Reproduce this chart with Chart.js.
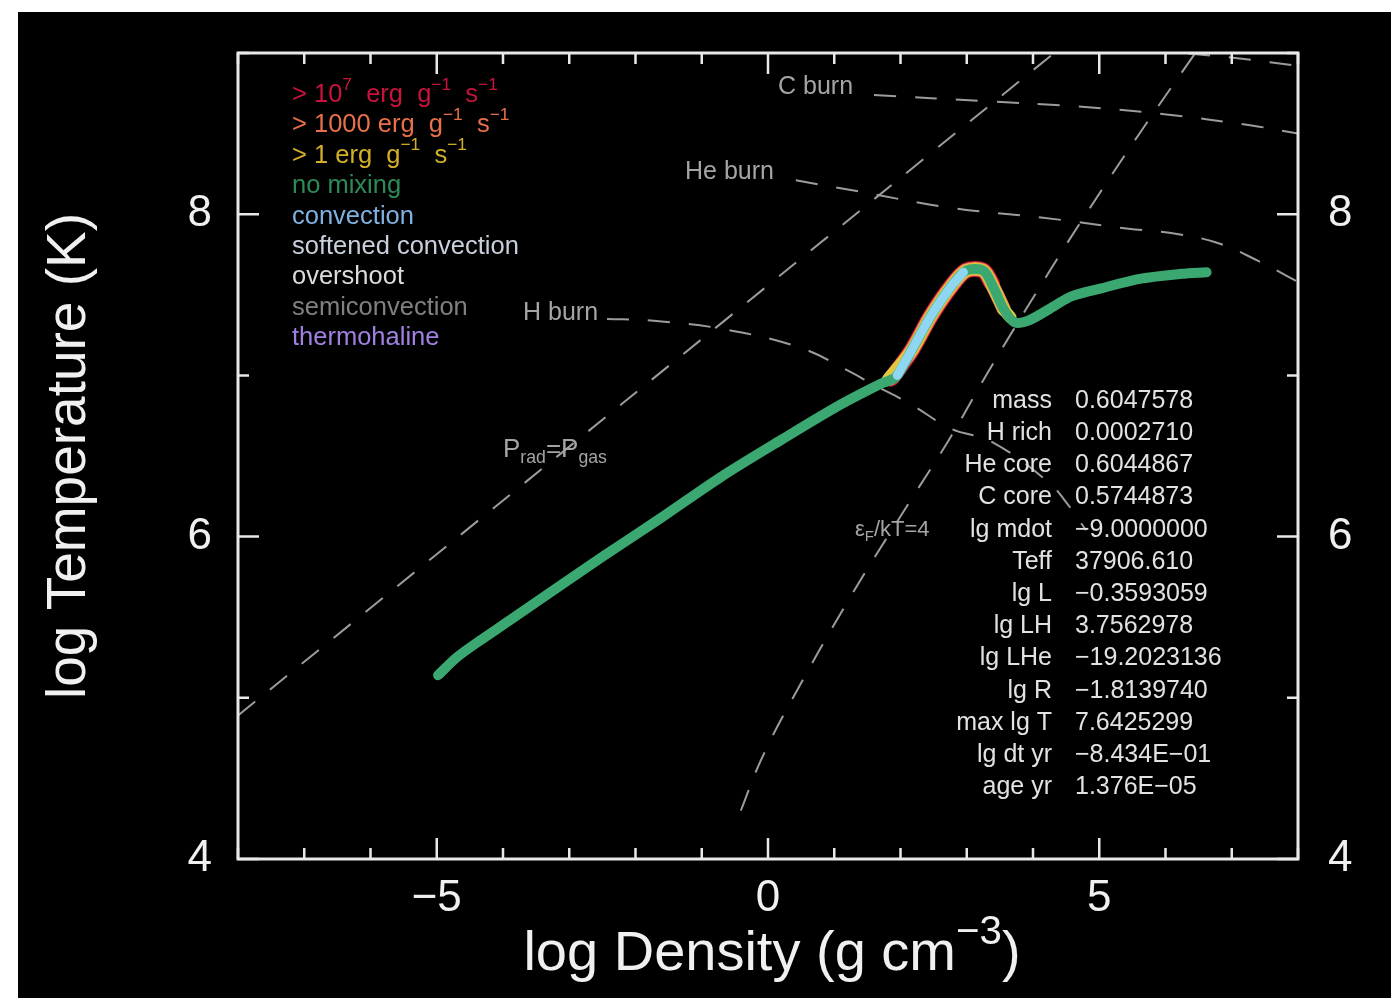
<!DOCTYPE html>
<html><head><meta charset="utf-8">
<script src="https://cdn.jsdelivr.net/npm/chart.js@4.4.1/dist/chart.umd.min.js"></script>
<style>html,body{margin:0;padding:0;background:#fff;}canvas{display:block;}</style>
</head><body>
<canvas id="c" width="1400" height="1001"></canvas>
<script>
const FONT = '"Liberation Sans", Arial, sans-serif';

// ---- data (log density, log temperature) ----
const trackRho = [-4.98,-4.70,-4.40,-3.90,-3.23,-2.48,-1.60,-0.71,0.20,1.10,1.71,1.93,2.16,2.46,2.76,2.99,3.25,3.41,3.56,3.72,3.93,4.32,4.58,5.03,5.63,6.24,6.62];
const trackT   = [5.14,5.25,5.34,5.48,5.67,5.88,6.12,6.37,6.60,6.82,6.95,6.99,7.15,7.37,7.55,7.65,7.65,7.54,7.41,7.33,7.34,7.43,7.49,7.54,7.60,7.63,7.64];
const convRho = [1.95,2.16,2.46,2.76,2.95];
const convT   = [7.00,7.15,7.37,7.55,7.64];
const mix7Rho = [1.86,2.16,2.46,2.76,2.99,3.25,3.38];
const mix7T   = [6.98,7.15,7.37,7.55,7.65,7.65,7.57];
const mix3Rho = [1.84,2.16,2.46,2.76,2.99,3.25,3.41,3.56];
const mix3T   = [6.98,7.15,7.37,7.55,7.65,7.65,7.54,7.41];
const mix1Rho = [1.80,2.16,2.46,2.76,2.99,3.25,3.41,3.56,3.66];
const mix1T   = [6.97,7.15,7.37,7.55,7.65,7.65,7.54,7.41,7.36];

const hBurnRho = [-2.43,-1.77,-0.71,0.50,1.25,1.56,2.16,2.76,3.37,4.23,4.47,4.80];
const hBurnT   = [7.35,7.34,7.29,7.17,7.02,6.95,6.82,6.67,6.59,6.34,6.23,6.04];
const heBurnRho = [0.42,1.25,2.76,4.12,5.44,6.13,6.80,7.40,8.00];
const heBurnT   = [8.21,8.15,8.04,7.98,7.91,7.88,7.82,7.71,7.58];
const cBurnRho = [1.60,3.32,4.62,5.98,7.30,8.00];
const cBurnT   = [8.74,8.70,8.67,8.62,8.55,8.50];
const oBurnRho = [6.34,7.15,8.00];
const oBurnT   = [8.997,8.965,8.92];
const pradRho = [-8.00,4.32];
const pradT   = [4.89,9.00];
const degRho = [-0.41,-0.11,0.35,1.25,2.16,2.76,3.32,4.27,4.83,5.59,6.45];
const degT   = [4.30,4.61,4.98,5.63,6.23,6.62,7.02,7.66,8.02,8.49,9.00];

// ---- tick labels ----
const xTickLabels = [-5, 0, 5];
const yTickLabels = [4, 6, 8];

// ---- text ----
const legendTexts = [
  [['> 10',''],['7','sup'],['  erg  g',''],['\u22121','sup'],['  s',''],['\u22121','sup']],
  [['> 1000 erg  g',''],['\u22121','sup'],['  s',''],['\u22121','sup']],
  [['> 1 erg  g',''],['\u22121','sup'],['  s',''],['\u22121','sup']],
  [['no mixing','']],
  [['convection','']],
  [['softened convection','']],
  [['overshoot','']],
  [['semiconvection','']],
  [['thermohaline','']]
];
const legendColors = ['#c8143c','#e8704a','#d4b02a','#2e8b57','#7fb2e0','#c8d0dc','#dcdcdc','#808080','#a080e0'];
const infoLabels = ['mass','H rich','He core','C core','lg mdot','Teff','lg L','lg LH','lg LHe','lg R','max lg T','lg dt yr','age yr'];
const infoValues = ['0.6047578','0.0002710','0.6044867','0.5744873','\u22129.0000000','37906.610','\u22120.3593059','3.7562978','\u221219.2023136','\u22121.8139740','7.6425299','\u22128.434E\u221201','1.376E\u221205'];
const xTitleParts = [['log Density (g cm',''],['\u22123','sup'],[')','']];
const yTitle = 'log Temperature (K)';

const pts = (xs, ys) => xs.map((x, i) => ({x, y: ys[i]}));
const dashed = (xs, ys) => ({data: pts(xs, ys), borderColor:'#9c9c9c', borderWidth:2, borderDash:[22,19], tension:0.4, pointRadius:0, showLine:true, order:10});
const solid = (xs, ys, color, w, order) => ({data: pts(xs, ys), borderColor:color, borderWidth:w, tension:0.3, pointRadius:0, showLine:true, borderCapStyle:'round', borderJoinStyle:'round', order});

function rich(ctx, parts, x, y, size, color, align, supScale) {
  const sc = supScale || 0.68;
  const segs = parts.map(([t,k]) => { const s = k ? size*sc : size; ctx.font = s + 'px ' + FONT; return {t, k, s, w: ctx.measureText(t).width}; });
  const total = segs.reduce((a,b) => a + b.w, 0);
  let cx = align === 'right' ? x - total : (align === 'center' ? x - total/2 : x);
  ctx.fillStyle = color; ctx.textAlign = 'left'; ctx.textBaseline = 'middle';
  for (const s of segs) {
    ctx.font = s.s + 'px ' + FONT;
    const dy = s.k === 'sup' ? -size*0.4 : (s.k === 'sub' ? size*0.32 : 0);
    ctx.fillText(s.t, cx, y + dy);
    cx += s.w;
  }
}

const bgPlugin = {
  id: 'bg',
  beforeDraw(chart) {
    const c = chart.ctx; c.save();
    c.fillStyle = '#fff'; c.fillRect(0, 0, chart.width, chart.height);
    c.fillStyle = '#000'; c.fillRect(18, 12, 1373, 986);
    c.restore();
  }
};

const framePlugin = {
  id: 'frame',
  afterDatasetsDraw(chart) {
    const c = chart.ctx, a = chart.chartArea, xs = chart.scales.x, ys = chart.scales.y;
    c.save();
    c.strokeStyle = '#e8e8e8'; c.lineWidth = 3; c.lineCap = 'butt';
    c.strokeRect(a.left, a.top, a.right - a.left, a.bottom - a.top);
    c.lineWidth = 2.5;
    c.beginPath();
    for (let v = -8; v <= 8; v++) {
      const p = xs.getPixelForValue(v), L = (v % 5 === 0) ? 21 : 11;
      c.moveTo(p, a.bottom); c.lineTo(p, a.bottom - L);
      c.moveTo(p, a.top); c.lineTo(p, a.top + L);
    }
    for (let v = 4; v <= 9; v++) {
      const p = ys.getPixelForValue(v), L = (v % 2 === 0) ? 21 : 11;
      c.moveTo(a.left, p); c.lineTo(a.left + L, p);
      c.moveTo(a.right, p); c.lineTo(a.right - L, p);
    }
    c.stroke();
    c.restore();
  }
};

const textPlugin = {
  id: 'texts',
  afterDraw(chart) {
    const c = chart.ctx, a = chart.chartArea; c.save();
    legendTexts.forEach((parts, i) => rich(c, parts, 292, 95 + i*30.4, 25.5, legendColors[i], 'left'));
    infoLabels.forEach((t, i) => {
      const y = 401 + i*32.2;
      rich(c, [[t,'']], 1052, y, 25, '#e2e2e2', 'right');
      rich(c, [[infoValues[i],'']], 1075, y, 25, '#e2e2e2', 'left');
    });
    const g = '#a4a4a4';
    rich(c, [['C burn','']], 778, 87, 25, g, 'left');
    rich(c, [['He burn','']], 685, 172, 25, g, 'left');
    rich(c, [['H burn','']], 523, 313, 25, g, 'left');
    rich(c, [['P',''],['rad','sub'],['=',''],['P',''],['gas','sub']], 503, 450, 26, g, 'left');
    rich(c, [['\u03B5',''],['F','sub'],['/kT=4','']], 855, 530, 22, g, 'left');
    // axis titles
    rich(c, xTitleParts, (a.left + a.right) / 2 + 4, 955, 56, '#f0f0f0', 'center', 0.72);
    c.translate(70, (a.top + a.bottom) / 2);
    c.rotate(-Math.PI / 2);
    rich(c, [[yTitle, '']], 0, 0, 55, '#f0f0f0', 'center');
    c.restore();
  }
};

const tickFmt = (list) => (v) => list.includes(v) ? (v < 0 ? '\u2212' + Math.abs(v) : String(v)) : '';

new Chart(document.getElementById('c'), {
  type: 'scatter',
  data: { datasets: [
    dashed(hBurnRho, hBurnT),
    dashed(heBurnRho, heBurnT),
    dashed(cBurnRho, cBurnT),
    dashed(oBurnRho, oBurnT),
    dashed(pradRho, pradT),
    dashed(degRho, degT),
    solid(mix7Rho, mix7T, '#c8143c', 16, 6),
    solid(mix3Rho, mix3T, '#f09050', 14, 5),
    solid(mix1Rho, mix1T, '#e0c840', 12, 4),
    solid(trackRho, trackT, '#3aa870', 10, 3),
    solid(convRho, convT, '#8fd6f2', 9, 1)
  ]},
  options: {
    responsive: false, animation: false, events: [],
    layout: { padding: { top: 53, left: 0, right: 0, bottom: 0 } },
    plugins: { legend: { display: false }, tooltip: { enabled: false } },
    scales: {
      x: {
        type: 'linear', position: 'bottom', min: -8, max: 8,
        grid: { display: false }, border: { display: false },
        ticks: { stepSize: 1, autoSkip: false, maxRotation: 0, padding: 5, color: '#f0f0f0', font: { family: FONT, size: 44 }, callback: tickFmt(xTickLabels) },
        afterFit(s) { s.height = 142; }
      },
      y: {
        type: 'linear', position: 'left', min: 4, max: 9,
        grid: { display: false }, border: { display: false },
        ticks: { stepSize: 1, autoSkip: false, padding: 18, color: '#f0f0f0', font: { family: FONT, size: 44 }, callback: tickFmt(yTickLabels) },
        afterFit(s) { s.width = 238; }
      },
      y2: {
        type: 'linear', position: 'right', min: 4, max: 9,
        grid: { display: false }, border: { display: false },
        ticks: { stepSize: 1, autoSkip: false, padding: 22, color: '#f0f0f0', font: { family: FONT, size: 44 }, callback: tickFmt(yTickLabels) },
        afterFit(s) { s.width = 102; }
      }
    }
  },
  plugins: [bgPlugin, framePlugin, textPlugin]
});
</script>
</body></html>
